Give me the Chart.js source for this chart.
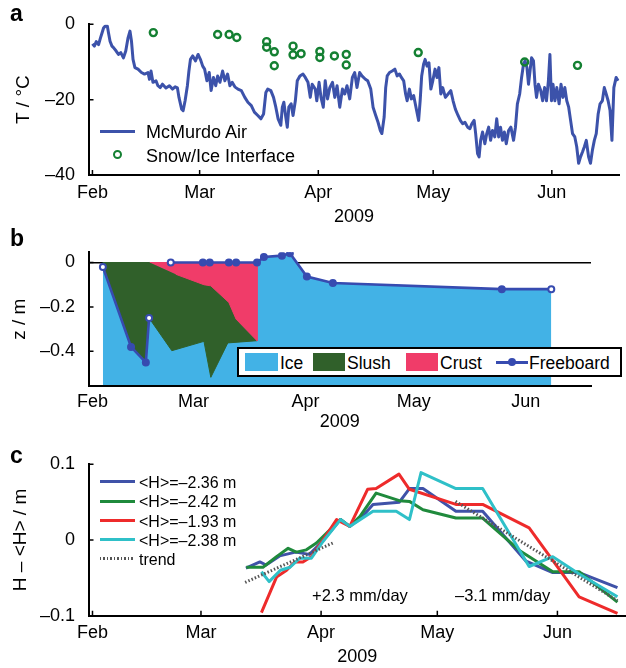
<!DOCTYPE html>
<html>
<head>
<meta charset="utf-8">
<title>McMurdo sea ice, 2009</title>
<script src="https://cdn.jsdelivr.net/npm/chart.js@4.4.1/dist/chart.umd.min.js"></script>
<style>
  body { margin: 0; background: #fff; }
  #page { position: relative; width: 626px; height: 668px; overflow: hidden;
          font-family: "Liberation Sans", Arial, Helvetica, sans-serif; color: #000; }
  #page canvas { position: absolute; left: 0; }
  .t { position: absolute; white-space: nowrap; line-height: 20px; font-size: 18px; }
  .lbl { position: absolute; font-weight: bold; font-size: 23px; line-height: 23px; }
  .sw { position: absolute; box-sizing: content-box; }
</style>
</head>
<body>
<div id="page">
  <canvas id="chartA" width="626" height="228" style="top:0px"></canvas>
  <canvas id="chartB" width="626" height="212" style="top:228px"></canvas>
  <canvas id="chartC" width="626" height="228" style="top:440px"></canvas>

  <div class="lbl" style="left:10px;top:2px">a</div>
  <div class="lbl" style="left:10px;top:227px">b</div>
  <div class="lbl" style="left:10px;top:444px">c</div>

  <!-- legend a -->
  <div class="sw" style="left:100px;top:129.5px;width:35px;height:3px;background:#3c52aa"></div>
  <div class="t" style="left:146px;top:122px">McMurdo Air</div>
  <div class="sw" style="left:113px;top:150px;width:5px;height:5px;border:2.4px solid #148032;border-radius:50%"></div>
  <div class="t" style="left:146px;top:146px">Snow/Ice Interface</div>

  <!-- legend b -->
  <div class="sw" style="left:237px;top:347px;width:381px;height:26px;border:2px solid #000;background:#fff"></div>
  <div class="sw" style="left:245px;top:353px;width:33px;height:18px;background:#42b2e6"></div>
  <div class="t" style="left:280px;top:353px;font-size:17.5px">Ice</div>
  <div class="sw" style="left:313px;top:353px;width:32px;height:18px;background:#30602a"></div>
  <div class="t" style="left:347px;top:353px;font-size:17.5px">Slush</div>
  <div class="sw" style="left:406px;top:353px;width:32px;height:18px;background:#f03c69"></div>
  <div class="t" style="left:440px;top:353px;font-size:17.5px">Crust</div>
  <div class="sw" style="left:496px;top:360.5px;width:32px;height:3px;background:#374bb0"></div>
  <div class="sw" style="left:508px;top:358px;width:4px;height:4px;border:2px solid #374bb0;border-radius:50%;background:#374bb0"></div>
  <div class="t" style="left:529px;top:353px;font-size:17.5px">Freeboard</div>

  <!-- legend c -->
  <div class="sw" style="left:100px;top:480px;width:35px;height:3px;background:#3f52a8"></div>
  <div class="t" style="left:139px;top:473px;font-size:16px">&lt;H&gt;=&ndash;2.36 m</div>
  <div class="sw" style="left:100px;top:499.5px;width:35px;height:3px;background:#1f8a3c"></div>
  <div class="t" style="left:139px;top:492px;font-size:16px">&lt;H&gt;=&ndash;2.42 m</div>
  <div class="sw" style="left:100px;top:519px;width:35px;height:3px;background:#ee2b2b"></div>
  <div class="t" style="left:139px;top:511.5px;font-size:16px">&lt;H&gt;=&ndash;1.93 m</div>
  <div class="sw" style="left:100px;top:538px;width:35px;height:3px;background:#2fc0c8"></div>
  <div class="t" style="left:139px;top:530.5px;font-size:16px">&lt;H&gt;=&ndash;2.38 m</div>
  <div class="sw" style="left:100px;top:557px;width:35px;height:3px;background:repeating-linear-gradient(to right,#555 0 1.5px,transparent 1.5px 3.5px)"></div>
  <div class="t" style="left:139px;top:550px;font-size:16px">trend</div>

  <div class="t" style="left:312px;top:585px;font-size:16.5px">+2.3 mm/day</div>
  <div class="t" style="left:455px;top:585px;font-size:16.5px">&ndash;3.1 mm/day</div>
</div>

<script>
// days are counted from 1 Feb 2009
const monthDay = [0, 28, 59, 89, 120];
const monthName = ['Feb', 'Mar', 'Apr', 'May', 'Jun'];

// a: air temperature at McMurdo
const airDay = [0, 0.5, 1.0, 1.6, 2.1, 2.5, 2.9, 3.3, 3.9, 4.2,
  4.6, 5.1, 5.5, 6.2, 6.8, 7.4, 8.1, 8.7, 9.3, 9.8,
  10.2, 10.6, 11.1, 11.9, 12.8, 13.6, 14.5, 14.9, 15.3, 15.8,
  16.6, 17.1, 17.7, 18.3, 19.2, 20.1, 20.9, 21.6, 22.2, 22.6,
  23.3, 23.7, 24.2, 24.8, 25.2, 25.6, 26.2, 26.9, 27.6, 28.2,
  28.8, 29.3, 29.9, 30.5, 31.0, 31.6, 32.2, 32.7, 33.3, 34.0,
  34.6, 35.3, 35.9, 36.5, 37.2, 38.0, 38.9, 39.8, 40.6, 41.5,
  42.3, 43.2, 44.0, 44.7, 45.3, 45.8, 46.6, 47.3, 47.9, 48.5,
  49.2, 49.6, 50.0, 50.5, 50.9, 51.3, 51.9, 52.4, 53.0, 53.5,
  54.2, 55.0, 55.6, 56.3, 56.9, 57.4, 58.2, 58.6, 59.2, 59.7,
  60.3, 60.8, 61.4, 62.0, 62.7, 63.3, 63.9, 64.6, 65.3, 65.9,
  66.5, 67.2, 67.9, 68.5, 69.1, 69.8, 70.4, 71.3, 71.9, 72.7,
  73.3, 74.0, 74.6, 75.2, 75.6, 76.2, 76.6, 77.0, 77.6, 78.3,
  79.0, 79.6, 80.2, 80.7, 81.3, 81.8, 82.2, 82.8, 83.3, 83.9,
  84.6, 85.2, 85.6, 86.0, 86.5, 86.9, 87.4, 87.9, 88.4, 88.9,
  89.5, 90.0, 90.5, 91.0, 91.5, 92.2, 92.9, 93.6, 94.2, 94.8,
  95.5, 96.1, 96.7, 97.3, 98.0, 98.6, 99.1, 99.7, 100.1, 100.6,
  101.0, 101.4, 101.9, 102.5, 103.0, 103.5, 104.0, 104.5, 105.1, 105.6,
  106.1, 106.6, 107.1, 107.6, 108.1, 108.7, 109.3, 110.0, 110.5, 111.0,
  111.6, 112.1, 112.6, 113.0, 113.5, 113.9, 114.3, 114.7, 115.2, 115.6,
  116.0, 116.5, 117.1, 117.6, 118.1, 118.6, 119.1, 119.5, 119.9, 120.3,
  120.8, 121.3, 121.9, 122.4, 122.9, 123.4, 123.9, 124.4, 124.9, 125.4,
  126.0, 126.5, 127.0, 127.5, 128.0, 128.5, 129.0, 129.6, 130.1, 130.6,
  131.1, 131.6, 132.1, 132.6, 133.2, 133.7, 134.2, 134.7, 135.2, 135.7,
  136.2, 136.8, 137.3];
const airTemp = [-5.2, -5.8, -4.6, -5.4, -3.6, -2.3, -1.0, -0.5, -0.5, -2.3,
  -4.5, -5.8, -6.2, -7.1, -8.0, -7.5, -8.9, -7.1, -3.6, -1.8,
  -4.5, -9.3, -11.5, -11.9, -12.8, -13.2, -12.8, -14.6, -12.4, -15.4,
  -15.0, -16.3, -16.8, -15.9, -16.9, -16.3, -17.2, -16.6, -16.9, -19.4,
  -22.5, -22.9, -20.3, -16.3, -12.4, -9.3, -8.4, -9.7, -8.0, -9.3,
  -11.1, -11.9, -15.0, -12.8, -17.6, -14.1, -16.3, -13.7, -15.4, -12.4,
  -15.0, -13.2, -16.3, -15.4, -16.6, -17.2, -17.6, -19.4, -20.7, -21.6,
  -23.3, -24.2, -25.1, -23.8, -18.1, -17.2, -17.6, -19.4, -22.0, -25.1,
  -26.8, -22.0, -20.7, -24.6, -27.3, -22.0, -21.1, -24.2, -20.3, -15.0,
  -13.7, -13.2, -14.1, -15.4, -19.4, -15.9, -17.2, -20.3, -15.4, -19.4,
  -22.0, -15.0, -19.8, -16.8, -15.4, -19.4, -16.3, -22.0, -17.2, -18.5,
  -16.3, -19.8, -14.1, -12.8, -16.8, -12.8, -13.7, -14.6, -15.0, -17.2,
  -22.0, -24.2, -26.0, -28.2, -29.0, -24.6, -16.8, -13.7, -12.8, -12.4,
  -11.9, -13.7, -13.2, -14.1, -15.0, -18.5, -20.3, -17.2, -19.8, -18.9,
  -22.5, -25.5, -20.3, -13.7, -10.6, -9.3, -11.1, -10.2, -17.2, -15.0,
  -11.9, -14.1, -11.5, -18.5, -16.8, -19.4, -18.5, -17.6, -20.3, -22.5,
  -24.2, -25.5, -26.4, -26.0, -27.3, -27.7, -26.4, -25.5, -29.0, -34.3,
  -35.2, -30.8, -28.6, -31.7, -29.0, -27.3, -30.8, -28.2, -29.9, -25.1,
  -29.9, -27.3, -30.8, -28.6, -31.7, -28.2, -27.3, -30.8, -27.3, -21.1,
  -18.5, -14.1, -10.6, -9.7, -11.5, -15.9, -12.4, -8.9, -9.7, -15.9,
  -19.4, -15.9, -17.6, -20.3, -16.8, -20.3, -15.0, -8.0, -20.3, -15.9,
  -20.3, -16.8, -21.1, -15.9, -19.4, -16.8, -20.3, -22.0, -25.5, -29.0,
  -29.9, -32.5, -36.9, -35.2, -33.9, -32.5, -30.8, -35.2, -36.9, -33.4,
  -30.8, -29.0, -23.8, -21.1, -20.3, -16.8, -18.5, -20.3, -22.9, -30.8,
  -16.8, -14.1, -15.0];
const ifaceDay = [15.9, 32.7, 35.7, 37.7, 45.5, 45.5, 47.5, 47.5, 52.4, 52.4,
  54.5, 59.4, 59.4, 63.2, 66.3, 66.3, 85.1, 112.9, 126.7];
const ifaceTemp = [-2.2, -2.7, -2.7, -3.5, -4.6, -6.1, -7.3, -11.0, -5.8, -8.1,
  -7.8, -7.2, -8.8, -8.4, -8.0, -10.8, -7.5, -10.0, -10.9];

// b: freeboard and layers (null = no line between those samples)
const fbDay = [2.9, 10.7, 14.8, 15.7, 18.7, 21.7, 30.6, 32.5, 37.8, 39.8, 45.6, 47.5, 52.5, 54.7, 59.4, 66.6, 113.4, 127.1];
const fbZ = [-0.02, -0.38, -0.45, -0.25, null, 0, 0, 0, 0, 0, 0, 0.025, 0.031, 0.042, -0.063, -0.092, -0.12, -0.12];
const iceDay = [2.9, 45.6, 47.5, 52.5, 54.7, 59.4, 66.6, 113.4, 127.1];
const iceZ = [0, 0, 0.025, 0.031, 0.042, -0.063, -0.092, -0.12, -0.12];
const slushDay = [2.9, 15.9, 23.1, 30.9, 32.8, 37.8, 39.8, 45.6, 37.5, 32.8, 30.9, 22.0, 15.7, 14.8, 10.7, 2.9];
const slushZ = [0, 0, -0.053, -0.1, -0.105, -0.18, -0.255, -0.352, -0.362, -0.517, -0.355, -0.397, -0.25, -0.45, -0.38, -0.02];
const crustDay = [15.9, 45.6, 45.6, 39.8, 37.8, 32.8, 30.9, 23.1];
const crustZ = [0, 0, -0.352, -0.255, -0.18, -0.105, -0.1, -0.053];

// c: thickness anomaly at four sites
const h1Day = [39.6, 43.2, 44.8, 48.3, 52.4, 56.0, 59.1, 64.0, 66.4, 69.5, 72.4, 79.2, 81.8, 85.3, 93.8, 100.7, 111.9, 118.8, 125.6, 135.5];
const h1 = [-0.037, -0.029, -0.033, -0.021, -0.016, -0.019, -0.003, 0.027, 0.018, 0.03, 0.047, 0.05, 0.068, 0.068, 0.038, 0.038, -0.028, -0.043, -0.043, -0.063];
const h2Day = [39.7, 44.0, 47.5, 50.5, 52.6, 55.2, 57.8, 64.0, 66.4, 69.0, 73.2, 79.2, 81.8, 85.3, 93.8, 100.7, 110.5, 118.8, 125.6, 135.5];
const h2 = [-0.036, -0.036, -0.022, -0.011, -0.016, -0.013, -0.004, 0.027, 0.018, 0.031, 0.062, 0.052, 0.051, 0.040, 0.029, 0.029, -0.015, -0.042, -0.042, -0.082];
const h3Day = [43.6, 47.5, 50.1, 52.2, 54.3, 56.5, 59.5, 63.0, 66.4, 71.0, 73.2, 79.1, 81.8, 93.8, 100.7, 112.7, 118.8, 125.6, 135.5];
const h3 = [-0.096, -0.049, -0.040, -0.029, -0.029, -0.022, 0.0, 0.027, 0.018, 0.067, 0.068, 0.087, 0.067, 0.047, 0.047, 0.016, -0.027, -0.075, -0.097];
const h4Day = [43.6, 45.6, 48.5, 51.0, 53.5, 56.5, 59.5, 64.0, 66.4, 72.4, 78.4, 81.8, 84.8, 93.8, 100.7, 112.7, 118.8, 125.6, 135.5];
const h4 = [-0.042, -0.055, -0.040, -0.036, -0.024, -0.024, -0.002, 0.027, 0.018, 0.038, 0.038, 0.027, 0.089, 0.068, 0.068, -0.035, -0.022, -0.045, -0.075];
const trendUpDay = [39.4, 62.0];
const trendUp = [-0.056, -0.004];
const trendDownDay = [93.7, 135.5];
const trendDown = [0.051, -0.080];

Chart.defaults.font.family = '"Liberation Sans", Arial, Helvetica, sans-serif';
Chart.defaults.color = '#000';

function pts(xs, ys) {
  return xs.map((x, i) => ({x: x, y: ys[i]}));
}

function dashed(v) {
  return v < 0 ? '\u2013' + (-v) : String(v);
}

// matlab style ticks pointing into the plot
const inwardTicks = {
  id: 'inwardTicks',
  afterDraw(chart, args, opts) {
    const ctx = chart.ctx;
    const a = chart.chartArea;
    ctx.save();
    ctx.strokeStyle = '#000';
    ctx.lineWidth = 1.5;
    ctx.beginPath();
    if (opts.x) {
      chart.scales.x.ticks.forEach(t => {
        const p = chart.scales.x.getPixelForValue(t.value);
        ctx.moveTo(p, a.bottom);
        ctx.lineTo(p, a.bottom - 5);
      });
    }
    if (opts.y) {
      chart.scales.y.ticks.forEach(t => {
        const p = chart.scales.y.getPixelForValue(t.value);
        ctx.moveTo(a.left, p);
        ctx.lineTo(a.left + 5, p);
      });
    }
    ctx.stroke();
    ctx.restore();
  }
};

function timeAxis(min, max, h, labelPad, titlePad) {
  return {
    type: 'linear', position: 'bottom', min: min, max: max,
    grid: {display: false, drawTicks: false},
    border: {display: true, color: '#000', width: 2, z: 1},
    ticks: {autoSkip: false, maxRotation: 0, padding: labelPad, font: {size: 18},
            callback: (v, i) => monthName[i]},
    title: {display: true, text: '2009', font: {size: 18}, padding: {top: 0, bottom: titlePad}},
    afterBuildTicks: s => { s.ticks = monthDay.map(v => ({value: v})); },
    afterFit: s => { s.height = h; }
  };
}

function valueAxis(min, max, tickVals, title, titlePad) {
  return {
    type: 'linear', position: 'left', min: min, max: max,
    grid: {display: false, drawTicks: false},
    border: {display: true, color: '#000', width: 2, z: 1},
    ticks: {padding: 13.5, font: {size: 18}, callback: v => dashed(v)},
    title: {display: true, text: title, font: {size: 19}, padding: {top: titlePad, bottom: 0}},
    afterBuildTicks: s => { s.ticks = tickVals.map(v => ({value: v})); },
    afterFit: s => { s.width = 88.5; }
  };
}

function baseOptions(pad, ticks) {
  return {
    responsive: false,
    animation: false,
    events: [],
    layout: {padding: pad},
    plugins: {legend: {display: false}, tooltip: {enabled: false}, inwardTicks: ticks}
  };
}

// ---- a ----
const optA = baseOptions({top: 23, right: 0, bottom: 0, left: 0}, {x: true, y: true});
optA.scales = {
  x: timeAxis(-1.03, 137.7, 53, 7, 0.5),
  y: valueAxis(-40, 0, [0, -20, -40], 'T / \u00B0C', 12)
};
new Chart('chartA', {
  type: 'line',
  data: {datasets: [{
    label: 'Snow/Ice Interface',
    data: pts(ifaceDay, ifaceTemp),
    showLine: false,
    pointRadius: 3.5,
    pointBorderWidth: 2.4,
    pointBorderColor: '#148032',
    pointBackgroundColor: 'rgba(255,255,255,0)',
    order: 1
  }, {
    label: 'McMurdo Air',
    data: pts(airDay, airTemp),
    borderColor: '#3c52aa',
    borderWidth: 3,
    borderJoinStyle: 'round',
    pointRadius: 0,
    tension: 0,
    order: 2
  }]},
  options: optA,
  plugins: [inwardTicks]
});

// ---- b ----
const fbColor = '#374bb0';
const hollow = [0, 3, 5, fbDay.length - 1];
const optB = baseOptions({top: 15, right: 35, bottom: 0, left: 0}, {x: false, y: true});
optB.scales = {
  x: timeAxis(-1.08, 138.1, 54, 5, 7.5),
  y: valueAxis(-0.556, 0.046, [0, -0.2, -0.4], 'z / m', 8)
};
optB.scales.y.grid = {
  display: true, drawTicks: false, lineWidth: 1.5,
  color: c => (c.tick && c.tick.value === 0) ? '#000' : 'rgba(0,0,0,0)'
};
new Chart('chartB', {
  type: 'line',
  data: {datasets: [{
    label: 'Freeboard',
    data: pts(fbDay, fbZ),
    borderColor: fbColor,
    borderWidth: 2.6,
    pointRadius: 3,
    pointBorderWidth: 2,
    pointBorderColor: fbColor,
    pointBackgroundColor: c => hollow.includes(c.dataIndex) ? '#fff' : fbColor,
    spanGaps: false,
    tension: 0,
    order: 1
  }, {
    label: 'Crust',
    data: pts(crustDay, crustZ),
    fill: 'shape',
    backgroundColor: '#f03c69',
    borderColor: '#f03c69',
    borderWidth: 1,
    pointRadius: 0,
    tension: 0,
    order: 2
  }, {
    label: 'Slush',
    data: pts(slushDay, slushZ),
    fill: 'shape',
    backgroundColor: '#30602a',
    borderColor: '#30602a',
    borderWidth: 1,
    pointRadius: 0,
    tension: 0,
    order: 3
  }, {
    label: 'Ice',
    data: pts(iceDay, iceZ),
    fill: 'start',
    backgroundColor: '#42b2e6',
    borderColor: '#42b2e6',
    borderWidth: 1,
    pointRadius: 0,
    tension: 0,
    order: 4
  }]},
  options: optB,
  plugins: [inwardTicks]
});

// ---- c ----
function hLine(label, xs, ys, color, order) {
  return {label: label, data: pts(xs, ys), borderColor: color, borderWidth: 3,
          borderJoinStyle: 'round', pointRadius: 0, tension: 0, order: order};
}
function trendLine(xs, ys) {
  return {label: 'trend', data: pts(xs, ys), borderColor: '#555', borderWidth: 3,
          borderDash: [1.5, 2], pointRadius: 0, tension: 0, order: 1};
}
const optC = baseOptions({top: 24, right: 0, bottom: 0, left: 0}, {x: true, y: true});
optC.scales = {
  x: timeAxis(-1.03, 137.7, 52.3, 6.5, 0.5),
  y: valueAxis(-0.1, 0.1, [0.1, 0, -0.1], 'H \u2013 <H> / m', 9)
};
new Chart('chartC', {
  type: 'line',
  data: {datasets: [
    hLine('<H>=-2.36 m', h1Day, h1, '#3f52a8', 5),
    hLine('<H>=-2.42 m', h2Day, h2, '#1f8a3c', 4),
    hLine('<H>=-1.93 m', h3Day, h3, '#ee2b2b', 3),
    hLine('<H>=-2.38 m', h4Day, h4, '#2fc0c8', 2),
    trendLine(trendUpDay, trendUp),
    trendLine(trendDownDay, trendDown)
  ]},
  options: optC,
  plugins: [inwardTicks]
});
</script>
</body>
</html>
